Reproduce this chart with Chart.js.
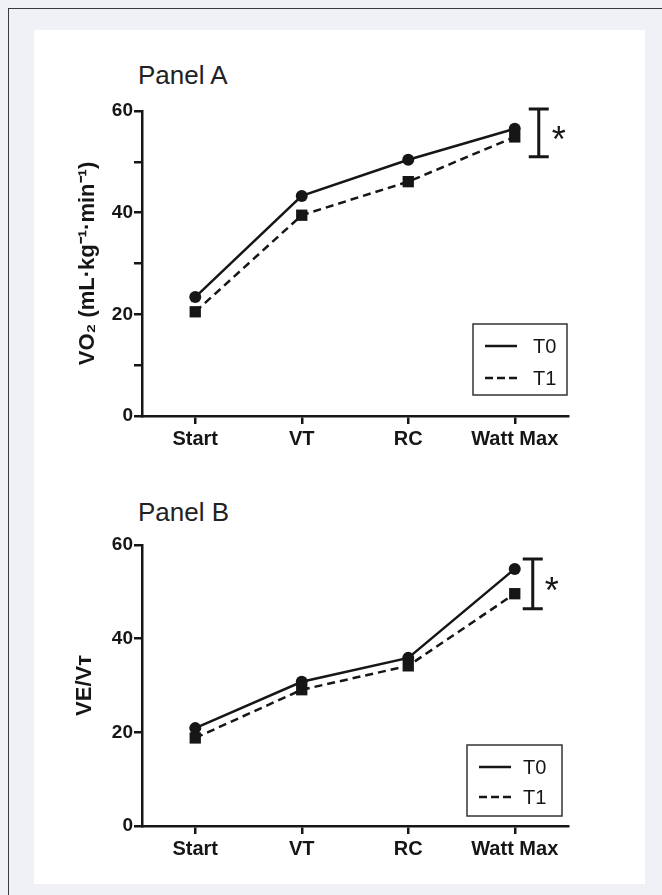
<!DOCTYPE html>
<html>
<head>
<meta charset="utf-8">
<script src="https://cdn.jsdelivr.net/npm/chart.js@4.4.0/dist/chart.umd.min.js"></script>
<style>
  body { margin: 0; width: 662px; height: 895px; overflow: hidden; position: relative; background: #f0f1f6; font-family: "Liberation Sans", Arial, sans-serif; }
  #frame { position: absolute; left: 8px; top: 8px; right: -10px; bottom: -10px; border-top: 1.5px solid #3a3a3a; border-left: 1.5px solid #3a3a3a; }
  #card { position: absolute; left: 34px; top: 30px; width: 611px; height: 854px; background: #fff; }
  .ptitle { position: absolute; left: 138px; font-size: 26px; line-height: 1; color: #222; }
  canvas { position: absolute; left: 0; }
</style>
</head>
<body>
<div id="frame"></div>
<div id="card"></div>
<div class="ptitle" style="top:62px">Panel A</div>
<div class="ptitle" style="top:499px">Panel B</div>
<canvas id="chartA" width="662" height="440" style="top:40px"></canvas>
<canvas id="chartB" width="662" height="420" style="top:470px"></canvas>
<script>
let labels = ['Start', 'VT', 'RC', 'Watt Max'];
let seriesNames = ['T0', 'T1'];

let vo2T0 = [23.4, 43.3, 50.4, 56.5];
let vo2T1 = [20.5, 39.5, 46.1, 54.9];
let vo2Err = [51.0, 60.4];

let veT0 = [20.9, 30.8, 35.9, 54.9];
let veT1 = [18.8, 29.1, 34.2, 49.6];
let veErr = [46.4, 57.0];

let ink = '#161616';
Chart.defaults.font.family = '"Liberation Sans", Arial, sans-serif';
Chart.defaults.color = ink;

// error bar with asterisk + boxed legend inside the plot
const extras = {
  id: 'extras',
  afterDatasetsDraw(chart, args, o) {
    const { ctx, chartArea, scales: { x, y } } = chart;
    const bx = x.getPixelForValue(labels.length - 1) + o.barOffset;
    const yt = y.getPixelForValue(o.err[1]);
    const yb = y.getPixelForValue(o.err[0]);
    ctx.save();
    ctx.strokeStyle = ink;
    ctx.lineWidth = 3;
    ctx.beginPath();
    ctx.moveTo(bx, yt); ctx.lineTo(bx, yb);
    ctx.moveTo(bx - 10, yt); ctx.lineTo(bx + 10, yt);
    ctx.moveTo(bx - 10, yb); ctx.lineTo(bx + 10, yb);
    ctx.stroke();
    ctx.fillStyle = ink;
    ctx.font = '36px "Liberation Sans"';
    ctx.textAlign = 'center';
    ctx.textBaseline = 'alphabetic';
    ctx.fillText('*', bx + o.starOffset, (yt + yb) / 2 + 19);

    // legend
    const L = o.legend;
    const lx = chartArea.right - L.right - L.w;
    const ly = chartArea.bottom - L.bottom - L.h;
    ctx.lineWidth = 1.5;
    ctx.strokeStyle = '#333';
    ctx.strokeRect(lx, ly, L.w, L.h);
    ctx.lineWidth = 2.5;
    ctx.strokeStyle = ink;
    ctx.font = '20px "Liberation Sans"';
    ctx.textAlign = 'left';
    ctx.textBaseline = 'middle';
    seriesNames.forEach((name, i) => {
      const ry = ly + L.rows[i];
      ctx.setLineDash(i === 0 ? [] : [8, 4]);
      ctx.beginPath();
      ctx.moveTo(lx + 12, ry); ctx.lineTo(lx + 44, ry);
      ctx.stroke();
      ctx.fillText(name, lx + L.textX, ry + 1);
    });
    ctx.restore();
  }
};

function makeChart(id, t0, t1, err, step, yTitle, titleX, top, xAxisH, extraOpts) {
  return new Chart(document.getElementById(id).getContext('2d'), {
    type: 'line',
    data: {
      labels: labels,
      datasets: [{
        label: seriesNames[0],
        data: t0,
        borderColor: ink,
        borderWidth: 2.5,
        pointStyle: 'circle',
        pointRadius: 6,
        pointBackgroundColor: ink,
        pointBorderWidth: 0,
      }, {
        label: seriesNames[1],
        data: t1,
        borderColor: ink,
        borderWidth: 2.5,
        borderDash: [8, 5],
        pointStyle: 'rect',
        pointRadius: 8,
        pointBackgroundColor: ink,
        pointBorderWidth: 0,
      }]
    },
    options: {
      responsive: false,
      animation: false,
      devicePixelRatio: 1,
      layout: { padding: { left: 0, right: 94, top: top, bottom: 0 } },
      plugins: {
        legend: { display: false },
        tooltip: { enabled: false },
        extras: extraOpts
      },
      scales: {
        x: {
          type: 'category',
          offset: true,
          afterFit: (s) => { s.height = xAxisH; },
          grid: { drawOnChartArea: false, offset: false, tickLength: 8, color: ink, lineWidth: 2.5 },
          border: { color: ink, width: 2.5 },
          ticks: { font: { size: 20, weight: 'bold' }, padding: 3, color: ink, maxRotation: 0 }
        },
        y: {
          min: 0,
          max: 60,
          afterFit: (s) => { s.width = 142; },
          grid: { drawOnChartArea: false, tickLength: 8, color: ink, lineWidth: 2.5 },
          border: { color: ink, width: 2.5 },
          ticks: {
            stepSize: step,
            padding: 1,
            font: { size: 19, weight: 'bold' },
            color: ink,
            callback: (v) => (v % 20 === 0 ? v : '')
          },
          title: {
            display: true,
            text: yTitle,
            color: ink,
            font: { size: 22, weight: 'bold' },
            padding: { top: titleX - 13.2, bottom: 0 }
          }
        }
      }
    },
    plugins: [extras]
  });
}

makeChart('chartA', vo2T0, vo2T1, vo2Err, 10, 'VO\u2082 (mL\u00b7kg\u207b\u00b9\u00b7min\u207b\u00b9)', 88, 71, 64, {
  err: vo2Err, barOffset: 24, starOffset: 20,
  legend: { right: 1, bottom: 21, w: 94, h: 71, rows: [22, 54], textX: 60 }
});

makeChart('chartB', veT0, veT1, veErr, 20, 'VE/V\u1d1b', 85, 75, 64, {
  err: veErr, barOffset: 18, starOffset: 19,
  legend: { right: 6, bottom: 10, w: 95, h: 71, rows: [22, 52], textX: 56 }
});
</script>
</body>
</html>
